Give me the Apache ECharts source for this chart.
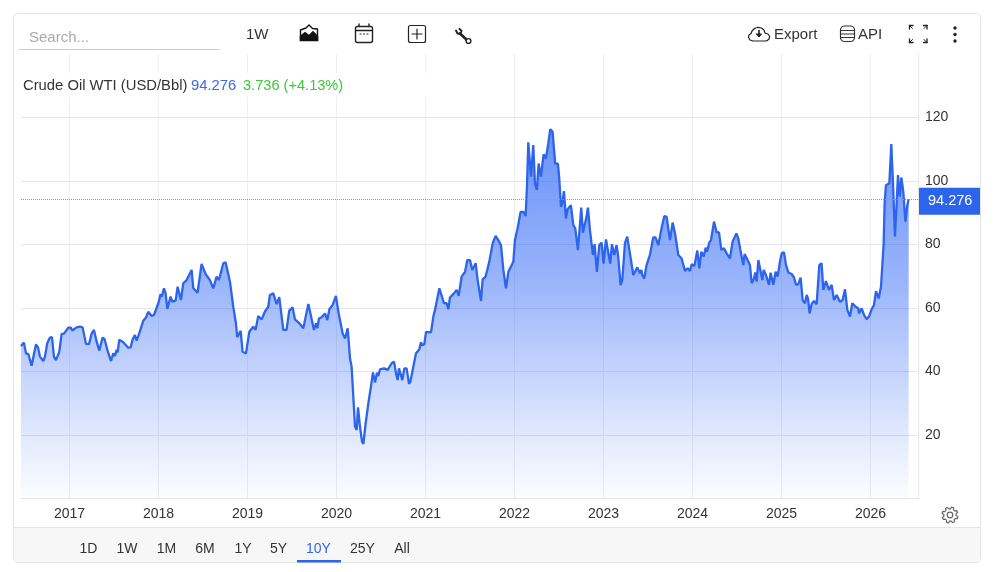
<!DOCTYPE html>
<html>
<head>
<meta charset="utf-8">
<style>html,body{margin:0;padding:0;background:#fff}#c{width:1006px;height:572px}</style>
<script src="https://cdn.jsdelivr.net/npm/echarts@6/dist/echarts.min.js"></script>
</head>
<body>
<div id="c"></div>
<script>
// Each pair: [fraction of the year, close in USD/Bbl]
const oil2016=[[.455,48.0],[.488,49.1],[.511,45.7],[.537,45.5],[.574,41.8],[.593,42.0],[.623,48.5],[.646,47.6],[.668,44.7],[.687,45.2],[.706,43.3],[.724,44.7],[.750,48.9],[.780,50.7],[.803,50.8],[.825,44.7],[.848,43.6],[.885,46.2],[.911,51.8],[.941,52.0],[.986,53.8]];
const oil2017=[[.013,53.8],[.031,52.9],[.080,53.9],[.117,54.1],[.147,53.9],[.185,48.7],[.219,48.6],[.249,52.0],[.275,53.1],[.305,49.4],[.335,46.6],[.372,50.7],[.395,50.1],[.425,46.8],[.466,43.3],[.492,45.7],[.511,44.9],[.529,46.8],[.541,46.0],[.559,50.0],[.604,49.2],[.660,47.5],[.687,47.6],[.709,50.1],[.735,51.5],[.754,49.7],[.784,52.0],[.829,56.0],[.859,57.0],[.885,58.8],[.923,57.5],[.949,57.8],[.998,61.5]];
const oil2018=[[.024,64.4],[.039,63.6],[.061,66.2],[.080,64.6],[.099,59.7],[.136,63.6],[.155,62.0],[.192,62.3],[.215,66.7],[.252,62.5],[.278,67.8],[.316,68.8],[.372,72.0],[.391,66.2],[.439,64.8],[.484,73.9],[.503,74.1],[.529,70.7],[.578,68.8],[.615,66.2],[.653,69.9],[.679,68.8],[.728,74.1],[.754,74.4],[.803,68.3],[.840,60.4],[.870,55.2],[.885,50.8],[.923,52.8],[.945,46.2],[.983,45.7]];
const oil2019=[[.020,52.5],[.065,54.1],[.091,53.1],[.121,57.5],[.159,56.4],[.196,58.9],[.233,60.4],[.252,64.1],[.290,64.6],[.327,61.2],[.357,63.4],[.402,53.1],[.439,53.1],[.469,59.2],[.507,60.2],[.533,56.4],[.589,55.0],[.627,53.6],[.684,61.3],[.747,53.1],[.770,55.2],[.785,53.6],[.803,56.7],[.833,57.1],[.871,58.3],[.897,56.2],[.920,59.6],[.957,61.0],[.994,63.8]];
const oil2020=[[.021,58.8],[.039,58.3],[.069,52.0],[.096,50.4],[.126,53.6],[.152,44.1],[.170,41.5],[.208,22.6],[.227,21.6],[.242,28.7],[.264,22.6],[.287,17.9],[.302,17.2],[.328,23.7],[.358,30.0],[.384,34.7],[.410,39.7],[.433,36.5],[.455,39.6],[.470,38.6],[.489,40.7],[.534,41.0],[.556,41.3],[.575,40.5],[.620,42.6],[.646,43.1],[.669,39.4],[.687,37.3],[.702,41.0],[.721,40.5],[.740,37.3],[.762,41.0],[.788,41.0],[.815,36.1],[.830,36.8],[.863,41.5],[.893,45.7],[.931,47.0],[.949,49.2],[.964,48.3],[.987,48.6]];
const oil2021=[[.006,52.5],[.062,52.3],[.088,57.3],[.107,59.4],[.129,59.9],[.156,66.2],[.178,65.9],[.208,61.5],[.238,61.5],[.257,59.6],[.275,63.3],[.294,62.7],[.320,64.6],[.350,65.7],[.373,63.8],[.406,69.9],[.444,71.4],[.470,75.1],[.500,75.1],[.526,72.0],[.545,72.0],[.564,74.1],[.586,68.8],[.601,68.6],[.624,62.2],[.642,69.0],[.676,69.9],[.717,74.6],[.755,80.4],[.788,82.7],[.818,81.4],[.848,79.8],[.875,72.0],[.904,66.2],[.931,71.4],[.949,71.4],[.987,74.6]];
const oil2022=[[.005,81.4],[.035,85.1],[.069,90.3],[.099,90.3],[.125,89.0],[.140,98.2],[.155,112.2],[.185,101.4],[.211,111.3],[.230,99.2],[.252,97.2],[.271,105.5],[.297,101.4],[.327,108.4],[.353,107.1],[.380,111.9],[.402,116.3],[.428,115.5],[.458,105.5],[.488,105.5],[.503,100.8],[.522,91.9],[.537,93.0],[.556,96.8],[.578,88.2],[.597,91.1],[.619,90.8],[.634,92.4],[.661,86.1],[.683,85.1],[.713,78.2],[.728,78.8],[.750,91.6],[.769,83.7],[.788,84.0],[.810,88.8],[.825,91.6],[.848,84.5],[.881,76.7],[.900,80.1],[.926,71.4],[.953,79.8],[.979,80.6]];
const oil2023=[[.001,74.0],[.028,81.6],[.046,81.9],[.076,74.0],[.095,80.1],[.121,76.7],[.147,79.8],[.166,76.1],[.192,67.2],[.211,68.8],[.241,80.4],[.267,82.5],[.297,77.2],[.335,70.4],[.342,69.9],[.380,72.8],[.410,70.9],[.425,72.0],[.436,70.4],[.458,69.3],[.484,73.5],[.522,76.7],[.559,82.2],[.586,82.2],[.616,79.8],[.634,79.5],[.656,85.6],[.683,88.9],[.709,88.8],[.728,88.8],[.747,81.4],[.777,86.9],[.804,83.5],[.841,76.7],[.878,75.6],[.916,71.7],[.946,72.5],[.972,71.7],[.991,73.8]];
const oil2024=[[.021,73.2],[.039,73.5],[.054,78.1],[.077,72.5],[.099,77.7],[.126,76.2],[.148,79.0],[.163,77.7],[.189,80.6],[.208,81.4],[.242,87.2],[.272,83.8],[.298,83.8],[.324,78.3],[.354,78.8],[.384,77.2],[.421,75.6],[.451,80.9],[.493,83.5],[.515,81.9],[.538,78.3],[.571,73.5],[.586,77.0],[.616,75.3],[.646,73.5],[.665,67.8],[.691,69.3],[.706,71.2],[.721,68.3],[.740,75.1],[.759,75.6],[.785,68.8],[.800,72.0],[.826,70.4],[.860,67.3],[.878,71.1],[.908,67.3],[.934,71.4],[.957,69.9],[.983,74.6]];
const oil2025=[[.002,77.2],[.028,77.5],[.051,73.5],[.077,71.2],[.114,70.7],[.140,69.7],[.163,67.3],[.189,67.5],[.215,69.6],[.238,62.5],[.264,61.5],[.283,64.1],[.298,63.0],[.316,58.3],[.339,61.3],[.365,62.2],[.395,61.2],[.425,73.5],[.451,74.1],[.470,65.7],[.500,68.5],[.534,65.7],[.564,67.3],[.590,62.5],[.620,64.1],[.639,64.1],[.657,62.0],[.687,62.5],[.714,65.9],[.740,59.4],[.770,57.3],[.796,61.5],[.833,60.4],[.863,59.9],[.871,58.3],[.901,59.9],[.927,57.8],[.957,56.5],[.983,57.3]];
const oil2026=[[.013,59.6],[.039,60.9],[.062,65.3],[.092,63.0],[.118,66.7],[.137,67.2],[.148,80.3],[.159,93.0],[.174,98.7],[.193,98.7],[.212,99.3],[.234,111.6],[.253,99.3],[.275,82.5],[.294,93.0],[.309,101.9],[.328,95.1],[.347,101.1],[.369,96.6],[.392,87.2],[.414,92.4],[.429,94.276]];
const yearTicks=[2017,2018,2019,2020,2021,2022,2023,2024,2025,2026];
const priceTicks=[20,40,60,80,100,120];
const lastPrice=94.276;
const headline='Crude Oil WTI (USD/Bbl)';
const changeText='3.736 (+4.13%)';
const ranges=['1D','1W','1M','6M','1Y','5Y','10Y','25Y','All'];

const yearly={2016:oil2016,2017:oil2017,2018:oil2018,2019:oil2019,2020:oil2020,2021:oil2021,2022:oil2022,2023:oil2023,2024:oil2024,2025:oil2025,2026:oil2026};
const seriesData=[];
Object.keys(yearly).forEach(y=>yearly[y].forEach(p=>seriesData.push([+y+p[0],p[1]])));

const FONT='"Liberation Sans", Arial, sans-serif', INK='#333', BLUE='#2d64ee';
const txt=(x,y,t,o={})=>({type:'text',z:20,x,y,style:{text:t,font:(o.size||14)+'px '+FONT,fill:o.fill||INK,textAlign:o.align||'left',textVerticalAlign:'middle'}});
const ln=(pts,o={})=>({type:'polyline',z:20,shape:{points:pts},style:{fill:o.fill||'none',stroke:o.stroke||'#111',lineWidth:o.w||1.5,lineCap:'round',lineJoin:'round'}});
const rect=(x,y,w,h,o={})=>({type:'rect',z:o.z||20,shape:{x,y,width:w,height:h,r:o.r||0},style:{fill:o.fill||'none',stroke:o.stroke||'none',lineWidth:o.w||1}});
const circ=(cx,cy,r,o={})=>({type:'circle',z:o.z||20,shape:{cx,cy,r},style:{fill:o.fill||'none',stroke:o.stroke||'none',lineWidth:o.w||1}});

const rangeX=[88.5,127,166.5,205,243,278.5,318.5,362.5,402];
const gear=[];
for(let i=0;i<48;i++){const a=i/48*2*Math.PI,k=i%6;const r=(k<3)?8:6.2;gear.push([950+r*Math.cos(a+.2),515+r*Math.sin(a+.2)]);}
const cloud=[[753,41],[750,40],[748.5,37.5],[749,35],[751,33.5],[752,31],[754.5,28.5],[758,27.3],[761.5,28],[764,30],[765,33],[768,34],[769.7,36.5],[769,39],[767,40.7],[765,41],[753,41]];

const graphics=[
 rect(13.5,13.5,967,549,{stroke:'#e4e4e4',r:4,z:1}),
 rect(14,528,966,34,{fill:'#f7f7f7',z:1,r:3}),
 ln([[14,527.5],[980,527.5]],{stroke:'#e4e4e4',w:1}),
 rect(20,73,470,24,{fill:'#fff',z:15}),
 txt(29,38,'Search...',{size:15,fill:'#aaa'}),
 ln([[19,49.5],[219,49.5]],{stroke:'#ccc',w:1}),
 txt(246,35,'1W',{size:15}),
 // area-style icon
 ln([[300.5,30],[306,28],[309,25],[312.5,28.5],[317.5,29],[317.5,40.5],[300.5,40.5],[300.5,30]],{w:1.4}),
 ln([[300,41],[300,36],[305,32],[309,35],[313,31],[318,36],[318,41]],{fill:'#111',w:.5}),
 // calendar
 rect(355.5,26.5,17,16,{stroke:'#222',r:2,w:1.4}),
 ln([[356,30.5],[372,30.5]],{stroke:'#222',w:1.4}),
 ln([[359,24],[359,26]],{stroke:'#222',w:1.4}), ln([[369,24],[369,26]],{stroke:'#222',w:1.4}),
 ln([[360,34],[361,34]],{stroke:'#222',w:1.2}), ln([[363.5,34],[364.5,34]],{stroke:'#222',w:1.2}), ln([[367,34],[368,34]],{stroke:'#222',w:1.2}),
 // plus box
 rect(408.5,25.5,17,17,{stroke:'#222',r:2,w:1.2}),
 ln([[412,34],[422,34]],{stroke:'#222',w:1.2}), ln([[417,29],[417,39]],{stroke:'#222',w:1.2}),
 // wrench
 ln([[460,33.5],[467.5,40.5]],{stroke:'#222',w:2.6}),
 ln([[456,30.5],[457.5,33.5],[460.5,34],[461.5,31],[459.5,28.8]],{stroke:'#222',w:1.9}),
 circ(468.5,41,2.4,{fill:'#fff',stroke:'#222',w:1.4}),
 // export
 ln(cloud,{stroke:'#222',w:1.2}),
 ln([[759,30.5],[759,36]],{stroke:'#222',w:1.6}),
 ln([[756.5,34],[759,37],[761.5,34],[756.5,34]],{stroke:'#222',fill:'#222',w:1}),
 txt(774,35,'Export',{size:15}),
 // database
 rect(840.5,26,14,15.5,{stroke:'#333',r:4,w:1.2}),
 ln([[841,30.5],[854,30.5]],{stroke:'#333',w:1}), ln([[841,34],[854,34]],{stroke:'#333',w:1}), ln([[841,37.5],[854,37.5]],{stroke:'#333',w:1}),
 txt(858,35,'API',{size:15}),
 // fullscreen
 ln([[909.5,25.5],[913,25.5]],{stroke:'#222',w:1.3}),ln([[909.5,25.5],[909.5,29]],{stroke:'#222',w:1.3}),ln([[909.5,25.5],[912.5,28.5]],{stroke:'#222',w:1}),
 ln([[923.5,25.5],[927,25.5]],{stroke:'#222',w:1.3}),ln([[927,25.5],[927,29]],{stroke:'#222',w:1.3}),ln([[927,25.5],[924,28.5]],{stroke:'#222',w:1}),
 ln([[909.5,42.5],[913,42.5]],{stroke:'#222',w:1.3}),ln([[909.5,42.5],[909.5,39]],{stroke:'#222',w:1.3}),ln([[909.5,42.5],[912.5,39.5]],{stroke:'#222',w:1}),
 ln([[923.5,42.5],[927,42.5]],{stroke:'#222',w:1.3}),ln([[927,42.5],[927,39]],{stroke:'#222',w:1.3}),ln([[927,42.5],[924,39.5]],{stroke:'#222',w:1}),
 circ(955,28,1.7,{fill:'#222'}),circ(955,34.5,1.7,{fill:'#222'}),circ(955,41,1.7,{fill:'#222'}),
 // gear
 {type:'polygon',z:20,shape:{points:gear},style:{fill:'#fff',stroke:'#666',lineWidth:1.2}},
 circ(950,515,2.8,{stroke:'#666',w:1.2}),
 // headline
 txt(23,86,headline,{size:14.8}),
 txt(191,86,lastPrice.toFixed(3),{size:14.8,fill:'#3a6be6'}),
 txt(243,86,changeText,{size:14.6,fill:'#3cc83c'}),
 // ranges
 rect(297,560,44,2.5,{fill:BLUE})
];
ranges.forEach((r,i)=>graphics.push(txt(rangeX[i],549,r,{align:'center',fill:r==='10Y'?BLUE:INK})));

const chart=echarts.init(document.getElementById('c'),null,{renderer:'canvas'});
chart.setOption({
 animation:false,
 backgroundColor:'#fff',
 grid:{left:21,right:88,top:54,bottom:73.5,containLabel:false},
 xAxis:{type:'value',min:2016.455,max:2026.534,
  axisLine:{show:true,onZero:false,lineStyle:{color:'#e6e6e6'}},
  axisTick:{show:false,customValues:yearTicks},
  axisLabel:{customValues:yearTicks,color:INK,fontSize:14,fontFamily:'Liberation Sans',margin:9,formatter:v=>String(v)},
  splitLine:{show:true,lineStyle:{color:'#eeeeee'}}},
 yAxis:{type:'value',position:'right',min:0,max:140,interval:20,
  axisLine:{show:true,lineStyle:{color:'#e8e8e8'}},
  axisTick:{show:false},
  axisLabel:{color:INK,fontSize:14,fontFamily:'Liberation Sans',margin:7,formatter:v=>priceTicks.includes(v)?String(v):''},
  splitLine:{show:true,showMaxLine:false,lineStyle:{color:'#e6e6e6'}}},
 series:[{type:'line',data:seriesData,showSymbol:false,smooth:false,clip:true,
  lineStyle:{color:BLUE,width:2.3},
  areaStyle:{color:{type:'linear',x:0,y:0,x2:0,y2:1,colorStops:[{offset:0,color:'rgba(41,98,245,1)'},{offset:.41,color:'rgba(41,98,245,0.68)'},{offset:.65,color:'rgba(41,98,245,0.4)'},{offset:.83,color:'rgba(41,98,245,0.2)'},{offset:1,color:'rgba(41,98,245,0.02)'}]}},
  markLine:{symbol:'none',silent:true,animation:false,precision:3,
   lineStyle:{color:'#7f9db5',type:'dotted',width:1},
   label:{show:true,position:'end',distance:1,offset:[0,2],formatter:()=>lastPrice.toFixed(3),color:'#fff',backgroundColor:BLUE,fontSize:14.5,fontFamily:'Liberation Sans',width:43,padding:[6,9,6,9],align:'left'},
   data:[{yAxis:lastPrice}]}}],
 graphic:{elements:graphics}
});
</script>
</body>
</html>
